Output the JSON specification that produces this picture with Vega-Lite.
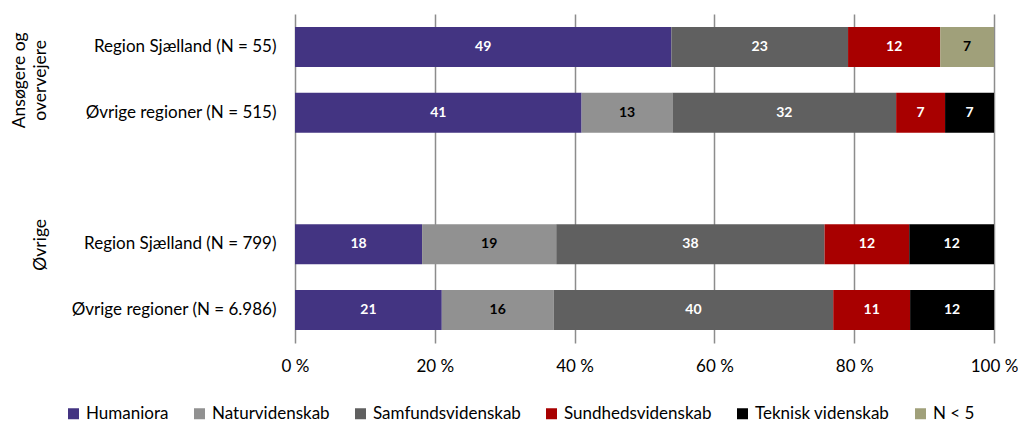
{
  "$schema": "https://vega.github.io/schema/vega-lite/v6.json",
  "width": 699,
  "height": 329,
  "autosize": "none",
  "padding": {"left": 295, "top": 14, "right": 24, "bottom": 79},
  "config": {
    "font": "Lato",
    "view": {"stroke": null},
    "axis": {"labelColor": "#000000", "labelFontSize": 17, "labelFont": "Lato", "labelLimit": 0}
  },
  "layer": [
    {
      "data": {
        "values": [
          {"row": "Region Sjælland (N = 55)", "cat": "Humaniora", "value": 49},
          {"row": "Region Sjælland (N = 55)", "cat": "Samfundsvidenskab", "value": 23},
          {"row": "Region Sjælland (N = 55)", "cat": "Sundhedsvidenskab", "value": 12},
          {"row": "Region Sjælland (N = 55)", "cat": "N < 5", "value": 7},
          {"row": "Øvrige regioner (N = 515)", "cat": "Humaniora", "value": 41},
          {"row": "Øvrige regioner (N = 515)", "cat": "Naturvidenskab", "value": 13},
          {"row": "Øvrige regioner (N = 515)", "cat": "Samfundsvidenskab", "value": 32},
          {"row": "Øvrige regioner (N = 515)", "cat": "Sundhedsvidenskab", "value": 7},
          {"row": "Øvrige regioner (N = 515)", "cat": "Teknisk videnskab", "value": 7},
          {"row": "Region Sjælland (N = 799)", "cat": "Humaniora", "value": 18},
          {"row": "Region Sjælland (N = 799)", "cat": "Naturvidenskab", "value": 19},
          {"row": "Region Sjælland (N = 799)", "cat": "Samfundsvidenskab", "value": 38},
          {"row": "Region Sjælland (N = 799)", "cat": "Sundhedsvidenskab", "value": 12},
          {"row": "Region Sjælland (N = 799)", "cat": "Teknisk videnskab", "value": 12},
          {"row": "Øvrige regioner (N = 6.986)", "cat": "Humaniora", "value": 21},
          {"row": "Øvrige regioner (N = 6.986)", "cat": "Naturvidenskab", "value": 16},
          {"row": "Øvrige regioner (N = 6.986)", "cat": "Samfundsvidenskab", "value": 40},
          {"row": "Øvrige regioner (N = 6.986)", "cat": "Sundhedsvidenskab", "value": 11},
          {"row": "Øvrige regioner (N = 6.986)", "cat": "Teknisk videnskab", "value": 12}
        ]
      },
      "transform": [
        {"calculate": "indexof(['Humaniora','Naturvidenskab','Samfundsvidenskab','Sundhedsvidenskab','Teknisk videnskab','N < 5'], datum.cat)", "as": "k"},
        {"stack": "value", "groupby": ["row"], "sort": [{"field": "k", "order": "ascending"}], "offset": "normalize", "as": ["v0", "v1"]},
        {"calculate": "(datum.v0 + datum.v1) / 2", "as": "mid"}
      ],
      "encoding": {
        "y": {
          "field": "row",
          "type": "nominal",
          "scale": {
            "domain": ["Region Sjælland (N = 55)", "Øvrige regioner (N = 515)", " ", "Region Sjælland (N = 799)", "Øvrige regioner (N = 6.986)"],
            "paddingInner": 0.392,
            "paddingOuter": 0.196
          },
          "axis": {"title": null, "domain": false, "ticks": false, "labelPadding": 19, "grid": false, "labelLimit": 0}
        }
      },
      "layer": [
        {
          "mark": {"type": "bar"},
          "encoding": {
            "x": {
              "field": "v0",
              "type": "quantitative",
              "scale": {"domain": [0, 1], "nice": false},
              "axis": {
                "title": null,
                "values": [0, 0.2, 0.4, 0.6, 0.8, 1],
                "labelExpr": "format(datum.value * 100, '.0f') + ' %'",
                "domain": false,
                "ticks": false,
                "grid": true,
                "gridColor": "#8c8c8c",
                "gridWidth": 1.5,
                "gridOpacity": 1,
                "labelPadding": 15,
                "labelBaseline": "top",
                "labelFlush": false,
                "labelOverlap": false,
                "labelBound": false
              }
            },
            "x2": {"field": "v1"},
            "color": {
              "field": "cat",
              "type": "nominal",
              "scale": {
                "domain": ["Humaniora", "Naturvidenskab", "Samfundsvidenskab", "Sundhedsvidenskab", "Teknisk videnskab", "N < 5"],
                "range": ["#433482", "#919191", "#606060", "#a80000", "#000000", "#a0a07a"]
              },
              "legend": {
                "title": null,
                "orient": "none",
                "direction": "horizontal",
                "columns": 6,
                "legendX": -230,
                "legendY": 391,
                "symbolType": "square",
                "symbolSize": 121,
                "symbolStrokeWidth": 0,
                "symbolOpacity": 1,
                "labelFontSize": 17,
                "labelFont": "Lato",
                "labelColor": "#000000",
                "labelOffset": 4,
                "labelLimit": 0,
                "columnPadding": 22
              }
            },
            "order": {"field": "k"}
          }
        },
        {
          "mark": {"type": "text", "fontWeight": "bold", "fontSize": 14, "baseline": "middle", "align": "center"},
          "encoding": {
            "x": {"field": "mid", "type": "quantitative"},
            "text": {"field": "value", "type": "quantitative"},
            "color": {
              "condition": {"test": "datum.cat === 'Naturvidenskab' || datum.cat === 'N < 5'", "value": "#000000"},
              "value": "#ffffff"
            }
          }
        }
      ]
    },
    {
      "data": {"values": [{"grp": "Ansøgere og|overvejere"}, {"grp": "Øvrige"}]},
      "mark": {"type": "text", "text": ""},
      "encoding": {
        "y": {
          "field": "grp",
          "type": "nominal",
          "scale": {
            "type": "point",
            "domain": ["_1", "Ansøgere og|overvejere", "_2", "_3", "_4", "_5", "Øvrige", "_6", "_7"],
            "padding": 1
          },
          "axis": {
            "orient": "left",
            "title": null,
            "values": ["Ansøgere og|overvejere", "Øvrige"],
            "labelExpr": "datum.value === 'Øvrige' ? ['', 'Øvrige'] : split(datum.value, '|')",
            "labelAngle": -90,
            "labelAlign": "center",
            "labelBaseline": "bottom",
            "labelLineHeight": 21.5,
            "labelFontSize": 17.5,
            "domain": false,
            "ticks": false,
            "tickSize": 0,
            "labelPadding": 0,
            "offset": 267,
            "grid": false
          }
        }
      }
    }
  ],
  "resolve": {"scale": {"y": "independent"}, "axis": {"y": "independent"}}
}
